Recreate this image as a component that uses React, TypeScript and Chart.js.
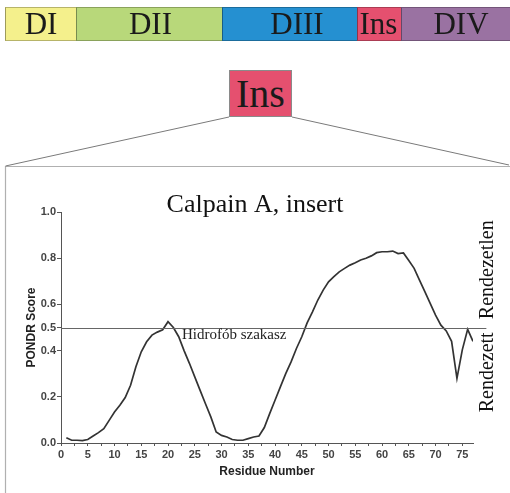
import React, { useEffect, useRef } from "react";
import { Chart, registerables } from "chart.js";

Chart.register(...registerables);

// ---- data ----
const residues: number[] = Array.from({ length: 77 }, (_, i) => i + 1);
const pondrScores: number[] = [
  0.023, 0.012, 0.012, 0.01, 0.015, 0.03, 0.045, 0.062, 0.098, 0.134,
  0.163, 0.197, 0.25, 0.33, 0.395, 0.438, 0.467, 0.48, 0.49, 0.525,
  0.5, 0.46, 0.4, 0.345, 0.286, 0.228, 0.17, 0.113, 0.048, 0.033,
  0.026, 0.015, 0.012, 0.012, 0.019, 0.026, 0.03, 0.067, 0.127, 0.185,
  0.243, 0.3, 0.351, 0.409, 0.46, 0.52, 0.568, 0.619, 0.662, 0.698,
  0.72, 0.741, 0.756, 0.77, 0.78, 0.792, 0.8, 0.81, 0.824, 0.828,
  0.828, 0.831, 0.82, 0.823, 0.79, 0.756, 0.705, 0.655, 0.604, 0.554,
  0.51, 0.485, 0.44, 0.28, 0.403, 0.492, 0.44,
];
const yTickValues: number[] = [0, 0.2, 0.4, 0.5, 0.6, 0.8, 1.0];
const xTickValues: number[] = Array.from({ length: 31 }, (_, i) => i * 2.5);
const threshold = 0.5;
const chartTitle = "Calpain A, insert";
const annotationText = "Hidrofób szakasz";
const disorderedLabel = "Rendezetlen";
const orderedLabel = "Rendezett";
const domainNames: string[] = ["DI", "DII", "DIII", "Ins", "DIV"];
const domainColors: string[] = ["#f4f08c", "#b8d87a", "#2590d1", "#e5506f", "#9a72a2"];
const domainWidths: number[] = [71, 146, 135, 44, 109];
const domainTextShift: number[] = [0, 1, 7, -1, 5];

const SERIF = "'Liberation Serif', 'Times New Roman', serif";

const overlayPlugin = {
  id: "overlay",
  afterDraw(chart: any) {
    const { ctx, scales } = chart;
    const x = scales.x;
    const y = scales.y;
    ctx.save();
    // panel frame
    ctx.strokeStyle = "#b0b0b0";
    ctx.lineWidth = 1.2;
    ctx.beginPath();
    ctx.moveTo(5.5, 493);
    ctx.lineTo(5.5, 166.5);
    ctx.lineTo(510, 166.5);
    ctx.stroke();
    // connectors from Ins box
    ctx.strokeStyle = "#7a7a7a";
    ctx.lineWidth = 1;
    ctx.beginPath();
    ctx.moveTo(229, 117);
    ctx.lineTo(5.5, 166);
    ctx.moveTo(292, 117);
    ctx.lineTo(509, 165);
    ctx.stroke();
    // threshold line
    const yp = Math.round(y.getPixelForValue(threshold)) + 0.5;
    ctx.strokeStyle = "#666";
    ctx.lineWidth = 1;
    ctx.beginPath();
    ctx.moveTo(x.getPixelForValue(0), yp);
    ctx.lineTo(x.getPixelForValue(79.5), yp);
    ctx.stroke();
    // title
    ctx.fillStyle = "#111";
    ctx.font = `26px ${SERIF}`;
    ctx.textAlign = "center";
    ctx.textBaseline = "alphabetic";
    ctx.fillText(chartTitle, 255, 212);
    // annotation
    ctx.font = `15px ${SERIF}`;
    ctx.textAlign = "left";
    ctx.textBaseline = "middle";
    ctx.fillStyle = "#222";
    ctx.fillText(annotationText, x.getPixelForValue(22.6), yp + 7);
    // side labels
    ctx.font = `20px ${SERIF}`;
    ctx.fillStyle = "#111";
    const sx = chart.chartArea.right + 15;
    const drawRot = (t: string, cy: number) => {
      ctx.save();
      ctx.translate(sx, cy);
      ctx.rotate(-Math.PI / 2);
      ctx.textAlign = "center";
      ctx.textBaseline = "middle";
      ctx.fillText(t, 0, 0);
      ctx.restore();
    };
    drawRot(disorderedLabel, y.getPixelForValue(0.75));
    drawRot(orderedLabel, y.getPixelForValue(0.306));
    ctx.restore();
  },
};

export default function App() {
  const canvasRef = useRef<HTMLCanvasElement | null>(null);

  useEffect(() => {
    if (!canvasRef.current) return;
    const chart = new Chart(canvasRef.current, {
      type: "line",
      data: {
        datasets: [
          {
            data: residues.map((r, i) => ({ x: r, y: pondrScores[i] })),
            borderColor: "#333",
            borderWidth: 1.7,
            pointRadius: 0,
            tension: 0,
            fill: false,
          },
        ],
      },
      options: {
        animation: false,
        responsive: false,
        devicePixelRatio: 1,
        layout: { padding: { left: 0, top: 212, right: 37, bottom: 0 } },
        plugins: { legend: { display: false }, tooltip: { enabled: false }, title: { display: false } },
        scales: {
          x: {
            type: "linear",
            min: 0,
            max: 77,
            afterBuildTicks: (axis: any) => {
              axis.ticks = xTickValues.map((v) => ({ value: v }));
            },
            afterFit: (axis: any) => {
              axis.height = 50;
            },
            ticks: {
              autoSkip: false,
              maxRotation: 0,
              padding: 2,
              color: "#444",
              font: { family: "Liberation Sans", weight: "bold", size: 11 },
              callback: (v: any) => (Number(v) % 5 === 0 ? String(v) : ""),
            },
            grid: { drawOnChartArea: false, drawTicks: true, tickLength: 3, color: "#555" },
            border: { color: "#555", width: 1 },
            title: {
              display: true,
              text: "Residue Number",
              color: "#222",
              font: { family: "Liberation Sans", weight: "bold", size: 12 },
              padding: { top: 0, bottom: 14 },
            },
          },
          y: {
            type: "linear",
            min: 0,
            max: 1,
            afterBuildTicks: (axis: any) => {
              axis.ticks = yTickValues.map((v) => ({ value: v }));
            },
            afterFit: (axis: any) => {
              axis.width = 61;
            },
            ticks: {
              autoSkip: false,
              padding: 1,
              color: "#444",
              font: { family: "Liberation Sans", weight: "bold", size: 11 },
              callback: (v: any) => Number(v).toFixed(1),
            },
            grid: { drawOnChartArea: false, drawTicks: true, tickLength: 4, color: "#555" },
            border: { color: "#555", width: 1 },
            title: {
              display: true,
              text: "PONDR Score",
              color: "#222",
              font: { family: "Liberation Sans", weight: "bold", size: 12 },
              padding: { top: 24, bottom: 0 },
            },
          },
        },
      },
      plugins: [overlayPlugin],
    } as any);
    return () => chart.destroy();
  }, []);

  let acc = 5;
  const segs = domainNames.map((n, i) => {
    const left = acc;
    acc += domainWidths[i];
    return (
      <div
        key={n}
        style={{
          position: "absolute",
          left,
          top: 7,
          width: domainWidths[i],
          height: 34,
          background: domainColors[i],
          boxSizing: "border-box",
          borderTop: "1px solid rgba(0,0,0,0.25)",
          borderBottom: "1px solid rgba(0,0,0,0.25)",
          borderLeft: "1px solid rgba(0,0,0,0.35)",
          display: "flex",
          alignItems: "center",
          justifyContent: "center",
          fontFamily: SERIF,
          fontSize: 31,
          color: "#1a1a1a",
          lineHeight: "34px",
        }}
      >
        <span style={{ position: "relative", left: domainTextShift[i] }}>{n}</span>
      </div>
    );
  });

  return (
    <div style={{ position: "fixed", left: 0, top: 0, width: 510, height: 493, background: "#fff", overflow: "hidden" }}>
      <canvas ref={canvasRef} width={510} height={493} style={{ position: "absolute", left: 0, top: 0, width: 510, height: 493 }} />
      {segs}
      <div
        style={{
          position: "absolute",
          left: 229,
          top: 70,
          width: 63,
          height: 47,
          background: domainColors[3],
          boxSizing: "border-box",
          border: "1px solid #8a8a8a",
          display: "flex",
          alignItems: "center",
          justifyContent: "center",
          fontFamily: SERIF,
          fontSize: 40,
          color: "#1a1a1a",
          lineHeight: "47px",
        }}
      >
        Ins
      </div>
    </div>
  );
}
